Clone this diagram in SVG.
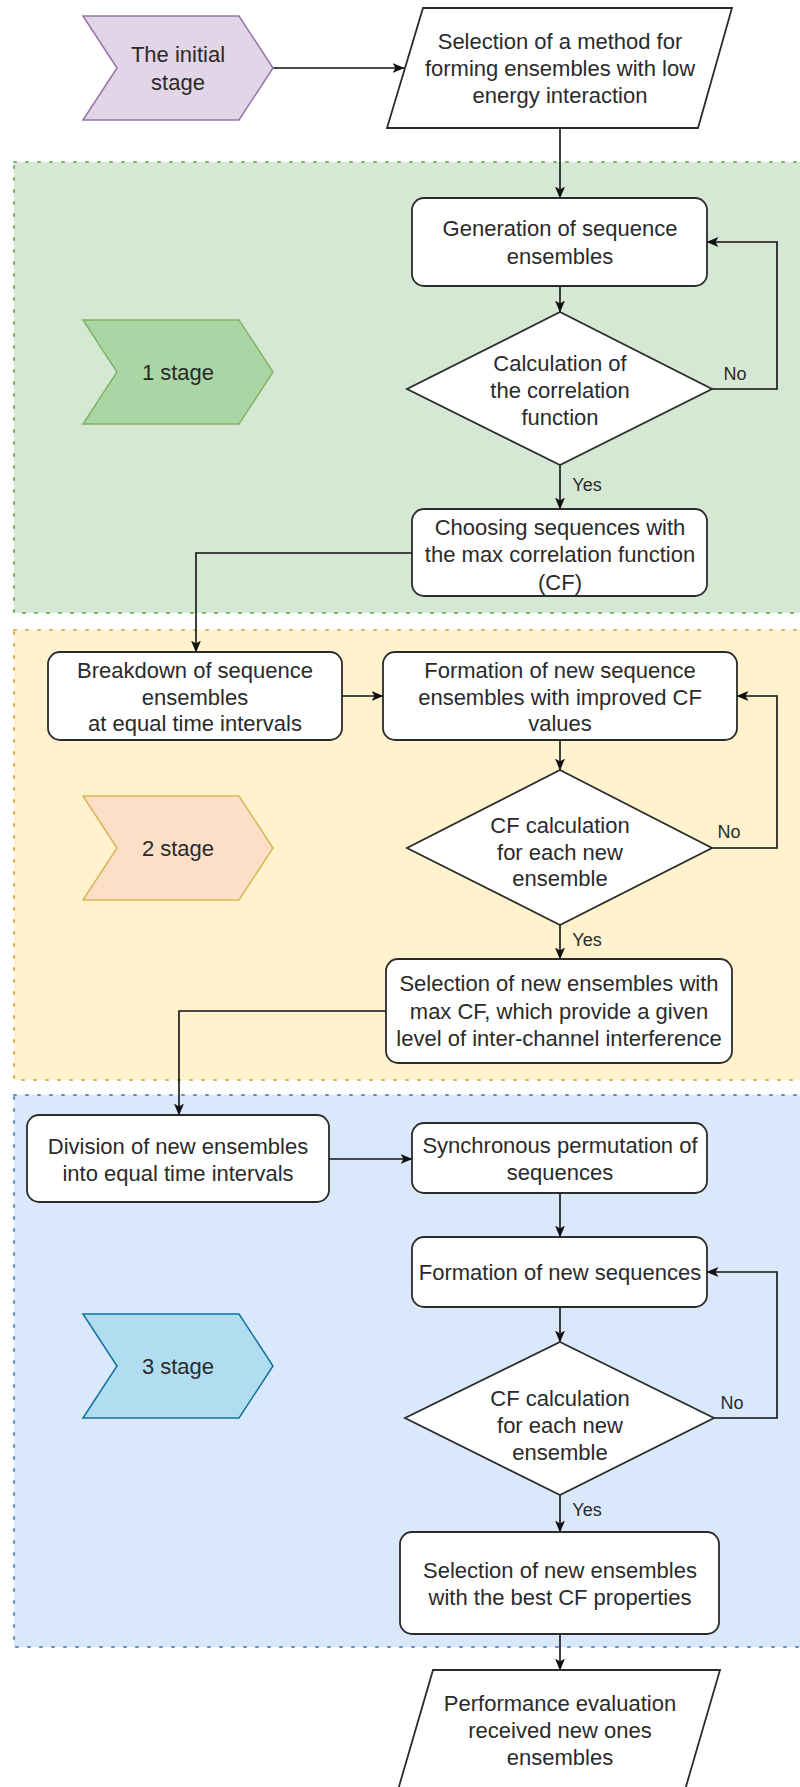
<svg xmlns="http://www.w3.org/2000/svg" width="800" height="1787" viewBox="0 0 800 1787">
<style>
.t{font-family:"Liberation Sans",Arial,sans-serif;font-size:22px;fill:#2a2a2a;text-anchor:middle}
.l{font-family:"Liberation Sans",Arial,sans-serif;font-size:18px;fill:#2a2a2a;text-anchor:middle}
.box{fill:#fff;stroke:#2b2b2b;stroke-width:1.8}
.c{fill:none;stroke:#111;stroke-width:1.6;marker-end:url(#arr)}
.reg{stroke-width:2.2;stroke-dasharray:2 10;stroke-linecap:round}
</style>
<defs>
<marker id="arr" viewBox="0 0 12 10" refX="11.5" refY="5" markerWidth="12" markerHeight="10" markerUnits="userSpaceOnUse" orient="auto">
<path d="M0,0 L12,5 L0,10 L3,5 Z" fill="#111"/>
</marker>
</defs>
<rect width="800" height="1787" fill="#fff"/>

<g id="regions">
<rect id="region1" class="reg" x="14" y="162" width="800" height="451" fill="#d5e8d4" stroke="#82b366"/>
<rect id="region2" class="reg" x="14" y="630" width="800" height="450" fill="#fff2cc" stroke="#d6b656"/>
<rect id="region3" class="reg" x="14" y="1095" width="800" height="552" fill="#dae8fc" stroke="#6c8ebf"/>
</g>

<g id="connectors">
<path class="c" d="M273,68 L404,68"/>
<path class="c" d="M560,128 L560,198"/>
<path class="c" d="M560,286 L560,312"/>
<path class="c" d="M712,389 L777,389 L777,242 L707,242"/>
<path class="c" d="M560,465 L560,509"/>
<path class="c" d="M412,553 L196,553 L196,652"/>
<path class="c" d="M342,696 L383,696"/>
<path class="c" d="M560,740 L560,770"/>
<path class="c" d="M712,848 L777,848 L777,696 L737,696"/>
<path class="c" d="M560,925 L560,959"/>
<path class="c" d="M386,1011 L179,1011 L179,1115"/>
<path class="c" d="M329,1159 L412,1159"/>
<path class="c" d="M560,1193 L560,1237"/>
<path class="c" d="M560,1307 L560,1342"/>
<path class="c" d="M714,1418 L777,1418 L777,1272 L707,1272"/>
<path class="c" d="M560,1495 L560,1532"/>
<path class="c" d="M560,1634 L560,1670"/>
<text class="l" x="735" y="380">No</text>
<text class="l" x="587" y="491">Yes</text>
<text class="l" x="729" y="838">No</text>
<text class="l" x="587" y="946">Yes</text>
<text class="l" x="732" y="1409">No</text>
<text class="l" x="587" y="1516">Yes</text>
</g>

<g id="initial-stage">
<polygon points="83,16 239,16 273,68 239,120 83,120 117,68" fill="#e1d5e7" stroke="#9673a6" stroke-width="1.5"/>
<text class="t" x="178" y="62">The initial</text>
<text class="t" x="178" y="90">stage</text>
</g>

<g id="select-method">
<polygon class="box" points="423,8 732,8 698,128 387,128"/>
<text class="t" x="560" y="49">Selection of a method for</text>
<text class="t" x="560" y="76">forming ensembles with low</text>
<text class="t" x="560" y="103">energy interaction</text>
</g>

<g id="stage1">
<polygon points="83,320 239,320 273,372 239,424 83,424 117,372" fill="#a9d6a4" stroke="#82b366" stroke-width="1.5"/>
<text class="t" x="178" y="380">1 stage</text>
</g>

<g id="generation">
<rect class="box" x="412" y="198" width="295" height="88" rx="12"/>
<text class="t" x="560" y="236">Generation of sequence</text>
<text class="t" x="560" y="264">ensembles</text>
</g>

<g id="calc-cf1">
<polygon class="box" points="560,312 712,389 560,465 407,389"/>
<text class="t" x="560" y="371">Calculation of</text>
<text class="t" x="560" y="398">the correlation</text>
<text class="t" x="560" y="425">function</text>
</g>

<g id="choosing">
<rect class="box" x="412" y="509" width="295" height="87" rx="12"/>
<text class="t" x="560" y="535">Choosing sequences with</text>
<text class="t" x="560" y="562">the max correlation function</text>
<text class="t" x="560" y="590">(CF)</text>
</g>

<g id="stage2">
<polygon points="83,796 239,796 273,848 239,900 83,900 117,848" fill="#fddfc8" stroke="#d6b656" stroke-width="1.5"/>
<text class="t" x="178" y="856">2 stage</text>
</g>

<g id="breakdown">
<rect class="box" x="48" y="652" width="294" height="88" rx="12"/>
<text class="t" x="195" y="678">Breakdown of sequence</text>
<text class="t" x="195" y="705">ensembles</text>
<text class="t" x="195" y="731">at equal time intervals</text>
</g>

<g id="formation-ensembles">
<rect class="box" x="383" y="652" width="354" height="88" rx="12"/>
<text class="t" x="560" y="678">Formation of new sequence</text>
<text class="t" x="560" y="705">ensembles with improved CF</text>
<text class="t" x="560" y="731">values</text>
</g>

<g id="calc-cf2">
<polygon class="box" points="560,770 712,848 560,925 407,848"/>
<text class="t" x="560" y="833">CF calculation</text>
<text class="t" x="560" y="860">for each new</text>
<text class="t" x="560" y="886">ensemble</text>
</g>

<g id="selection-max">
<rect class="box" x="386" y="959" width="346" height="104" rx="12"/>
<text class="t" x="559" y="991">Selection of new ensembles with</text>
<text class="t" x="559" y="1019">max CF, which provide a given</text>
<text class="t" x="559" y="1046">level of inter-channel interference</text>
</g>

<g id="stage3">
<polygon points="83,1314 239,1314 273,1366 239,1418 83,1418 117,1366" fill="#b1ddf0" stroke="#10739e" stroke-width="1.5"/>
<text class="t" x="178" y="1374">3 stage</text>
</g>

<g id="division">
<rect class="box" x="27" y="1115" width="302" height="87" rx="12"/>
<text class="t" x="178" y="1154">Division of new ensembles</text>
<text class="t" x="178" y="1181">into equal time intervals</text>
</g>

<g id="synchronous">
<rect class="box" x="412" y="1123" width="295" height="70" rx="12"/>
<text class="t" x="560" y="1153">Synchronous permutation of</text>
<text class="t" x="560" y="1180">sequences</text>
</g>

<g id="formation-sequences">
<rect class="box" x="412" y="1237" width="295" height="70" rx="12"/>
<text class="t" x="560" y="1280">Formation of new sequences</text>
</g>

<g id="calc-cf3">
<polygon class="box" points="560,1342 714,1418 560,1495 405,1418"/>
<text class="t" x="560" y="1406">CF calculation</text>
<text class="t" x="560" y="1433">for each new</text>
<text class="t" x="560" y="1460">ensemble</text>
</g>

<g id="selection-best">
<rect class="box" x="400" y="1532" width="319" height="102" rx="12"/>
<text class="t" x="560" y="1578">Selection of new ensembles</text>
<text class="t" x="560" y="1605">with the best CF properties</text>
</g>

<g id="performance">
<polygon class="box" points="433,1670 720,1670 685,1790 398,1790"/>
<text class="t" x="560" y="1711">Performance evaluation</text>
<text class="t" x="560" y="1738">received new ones</text>
<text class="t" x="560" y="1765">ensembles</text>
</g>
</svg>
